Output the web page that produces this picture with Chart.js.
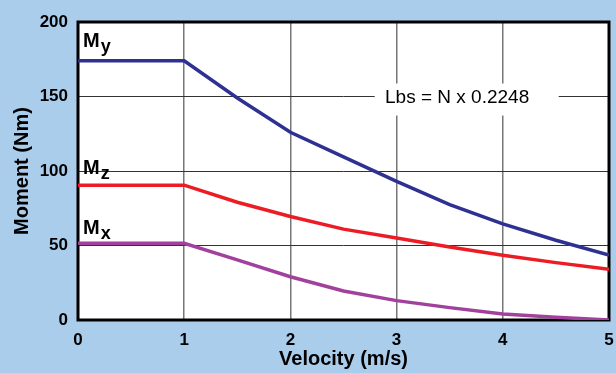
<!DOCTYPE html>
<html lang="en">
<head>
    <meta charset="UTF-8">
    <title>Moment vs Velocity</title>
    <style>
        html, body {
            margin: 0;
            padding: 0;
            background-color: #abcdec;
        }
        .chart-container {
            width: 616px;
            height: 373px;
        }
    </style>
    <script src="https://cdn.jsdelivr.net/npm/chart.js"></script>
</head>
<body>
    <div class="chart-container">
        <canvas id="momentChart"></canvas>
    </div>
    <script>
        const velocity = [0, 1, 1.5, 2, 2.5, 3, 3.5, 4, 4.5, 5];
        const momentY = [174, 174, 149, 126, 109.5, 93, 77.5, 64.5, 53.5, 43.5];
        const momentZ = [90.5, 90.5, 79, 69.5, 61, 55, 49, 43.5, 38.5, 34];
        const momentX = [51.5, 51.5, 40.3, 29, 19.5, 13, 8.3, 4, 1.8, 0];
        const seriesNames = ['y', 'z', 'x'];
        const seriesColors = ['#2e3192', '#ed1c24', '#a1409d'];
        const noteText = 'Lbs = N x 0.2248';

        const FONT = '"Liberation Sans", Arial, Helvetica, sans-serif';

        function toPoints(values) {
            return velocity.map((v, i) => ({ x: v, y: values[i] }));
        }

        // white plot background, note box and frame go under the lines
        const framePlugin = {
            id: 'framePlugin',
            beforeDraw(chart) {
                const { ctx, chartArea: a } = chart;
                ctx.save();
                ctx.fillStyle = '#fff';
                ctx.fillRect(a.left, a.top, a.right - a.left, a.bottom - a.top);
                ctx.restore();
            },
            beforeDatasetsDraw(chart) {
                const { ctx, chartArea: a, scales } = chart;
                ctx.save();
                const bx = scales.x.getPixelForValue(3.66);
                const tx = scales.x.getPixelForValue(3.57);
                const cy = scales.y.getPixelForValue(150);
                ctx.fillStyle = '#fff';
                ctx.fillRect(bx - 92, cy - 13, 184, 32);
                ctx.fillStyle = '#000';
                ctx.font = '19px ' + FONT;
                ctx.textAlign = 'center';
                ctx.textBaseline = 'middle';
                ctx.fillText(noteText, tx, cy + 1);
                ctx.strokeStyle = '#000';
                ctx.lineWidth = 3;
                ctx.strokeRect(a.left, a.top, a.right - a.left, a.bottom - a.top);
                ctx.restore();
            },
            afterDatasetsDraw(chart) {
                const { ctx, scales } = chart;
                const labelAt = [183, 98, 58];
                ctx.save();
                ctx.fillStyle = '#000';
                ctx.textBaseline = 'alphabetic';
                ctx.textAlign = 'left';
                seriesNames.forEach((n, i) => {
                    const x = scales.x.getPixelForValue(0) + 5;
                    const y = scales.y.getPixelForValue(labelAt[i]);
                    ctx.font = 'bold 20px ' + FONT;
                    ctx.fillText('M', x, y);
                    const w = ctx.measureText('M').width;
                    ctx.font = 'bold 18px ' + FONT;
                    ctx.fillText(n, x + w + 1, y + 5);
                });
                ctx.restore();
            }
        };

        const ctx = document.getElementById('momentChart').getContext('2d');
        new Chart(ctx, {
            type: 'line',
            data: {
                datasets: [momentY, momentZ, momentX].map((vals, i) => ({
                    label: 'M' + seriesNames[i],
                    data: toPoints(vals),
                    borderColor: seriesColors[i],
                    borderWidth: 3.5,
                    pointRadius: 0,
                    tension: 0,
                    fill: false
                }))
            },
            options: {
                responsive: true,
                maintainAspectRatio: false,
                animation: false,
                layout: { padding: { top: 22, right: 7, left: 0, bottom: 0 } },
                plugins: {
                    legend: { display: false },
                    tooltip: { enabled: false }
                },
                scales: {
                    x: {
                        type: 'linear',
                        min: 0,
                        max: 5,
                        ticks: {
                            stepSize: 1,
                            color: '#000',
                            padding: 10,
                            font: { family: FONT, size: 17, weight: 'bold' }
                        },
                        grid: { color: '#777', lineWidth: 1.5, drawTicks: false },
                        border: { display: false },
                        title: {
                            display: true,
                            text: 'Velocity (m/s)',
                            color: '#000',
                            padding: { top: 0, bottom: 2 },
                            font: { family: FONT, size: 20, weight: 'bold' }
                        },
                        afterFit(scale) {
                            scale.height = 53;
                            scale.paddingLeft = 0;
                            scale.paddingRight = 0;
                        }
                    },
                    y: {
                        min: 0,
                        max: 200,
                        ticks: {
                            stepSize: 50,
                            color: '#000',
                            padding: 10,
                            font: { family: FONT, size: 17, weight: 'bold' }
                        },
                        grid: { color: '#333', lineWidth: 1, drawTicks: false },
                        border: { display: false },
                        title: {
                            display: true,
                            text: 'Moment (Nm)',
                            color: '#000',
                            padding: { top: 10, bottom: 0 },
                            font: { family: FONT, size: 20, weight: 'bold' }
                        },
                        afterFit(scale) { scale.width = 78; }
                    }
                }
            },
            plugins: [framePlugin]
        });
    </script>
</body>
</html>
